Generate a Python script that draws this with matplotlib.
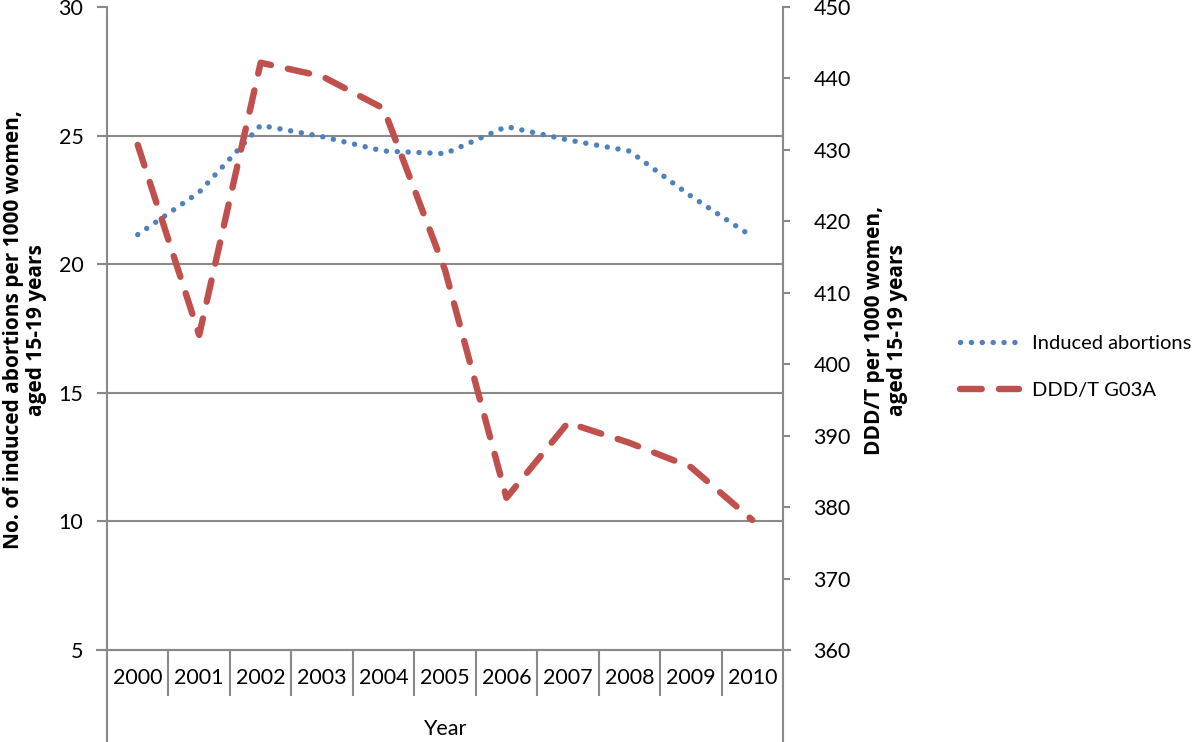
import matplotlib
matplotlib.use("Agg")
import matplotlib.pyplot as plt
from matplotlib.lines import Line2D

years = ["2000", "2001", "2002", "2003", "2004", "2005", "2006", "2007", "2008", "2009", "2010"]
abortions = [21.15, 22.8, 25.4, 24.96, 24.4, 24.3, 25.35, 24.83, 24.4, 22.65, 21.07]
ddd = [430.7, 404.1, 442.2, 440.3, 435.8, 413.2, 381.3, 391.8, 389.0, 385.6, 378.2]
left_ticks = [5, 10, 15, 20, 25, 30]
right_ticks = [360, 370, 380, 390, 400, 410, 420, 430, 440, 450]

plt.rcParams['font.family'] = ['Lato', 'DejaVu Sans']
GRAY = '#898989'
BLUE = '#4F81BD'
RED = '#C0504D'

W, H = 1200, 742
fig = plt.figure(figsize=(W / 100, H / 100), dpi=100)
L, R, B, T = 107, 783, 650, 7
ax = fig.add_axes([L / W, (H - B) / H, (R - L) / W, (B - T) / H])
ax2 = ax.twinx()

x = list(range(len(years)))
ax.set_xlim(-0.5, len(years) - 0.5)
ax.set_ylim(5, 30)
ax2.set_ylim(360, 450)

ax.plot(x, abortions, color=BLUE, lw=3.9, linestyle=(0, (0.01, 2.0)),
        dash_capstyle='round', solid_capstyle='round', label='Induced abortions', zorder=3)
ax2.plot(x, ddd, color=RED, lw=4.6, linestyle=(0, (3.4, 2.7)),
         dash_capstyle='round', label='DDD/T G03A', zorder=3)

# left axis
ax.set_yticks(left_ticks)
ax.set_yticklabels([str(v) for v in left_ticks], fontsize=15.5)
ax.tick_params(axis='y', direction='out', length=7, width=1.5, color=GRAY, pad=10)
for v in left_ticks[1:-1]:
    ax.axhline(v, color=GRAY, lw=1.5, zorder=1)

# right axis
ax2.set_yticks(right_ticks)
ax2.set_yticklabels([str(v) for v in right_ticks], fontsize=15.5)
ax2.tick_params(axis='y', direction='out', length=5, width=1.5, color=GRAY, pad=17)

# x axis categories
ax.set_xticks(x)
ax.set_xticklabels(years, fontsize=15.5)
ax.tick_params(axis='x', which='major', length=0, pad=13)
ax.set_xticks([i + 0.5 for i in range(len(years) - 1)], minor=True)
ax.tick_params(axis='x', which='minor', direction='out', length=33, width=1.5, color=GRAY)

for a in (ax, ax2):
    a.spines['top'].set_visible(False)
    for s in ('left', 'right', 'bottom'):
        a.spines[s].set_color(GRAY)
        a.spines[s].set_linewidth(1.5)
ax.spines['right'].set_visible(False)
ax2.spines['left'].set_visible(False)
ax2.spines['bottom'].set_visible(False)

# extended spines down to bottom of figure
for px in (L, R):
    fig.add_artist(Line2D([px / W, px / W], [0, (H - B) / H], color=GRAY, lw=1.5,
                          transform=fig.transFigure))
# axis line stubs beyond spines
fig.add_artist(Line2D([97 / W, R / W + 7 / W], [(H - B) / H, (H - B) / H], color=GRAY, lw=1.5,
                      transform=fig.transFigure))

fig.text((L + R) / 2 / W, 1 - 729 / H, 'Year', ha='center', va='center', fontsize=15.5)

lab_font = dict(family=['Open Sans', 'DejaVu Sans'], fontsize=15, fontweight='bold')
fig.text(25 / W, 1 - 330 / H, 'No. of induced abortions per 1000 women,\naged 15-19 years',
         rotation=90, ha='center', va='center', multialignment='center',
         linespacing=1.1, **lab_font)
fig.text(886 / W, 1 - 330 / H, 'DDD/T per 1000 women,\naged 15-19 years',
         rotation=90, ha='center', va='center', multialignment='center',
         linespacing=1.1, **lab_font)

h1, l1 = ax.get_legend_handles_labels()
h2, l2 = ax2.get_legend_handles_labels()
fig.legend(h1 + h2, l1 + l2, loc='center left', bbox_to_anchor=(942 / W, 1 - 367 / H),
           frameon=False, fontsize=14.5, handlelength=2.9, handletextpad=0.65,
           labelspacing=1.45)

fig.savefig('out.png', dpi=100)
